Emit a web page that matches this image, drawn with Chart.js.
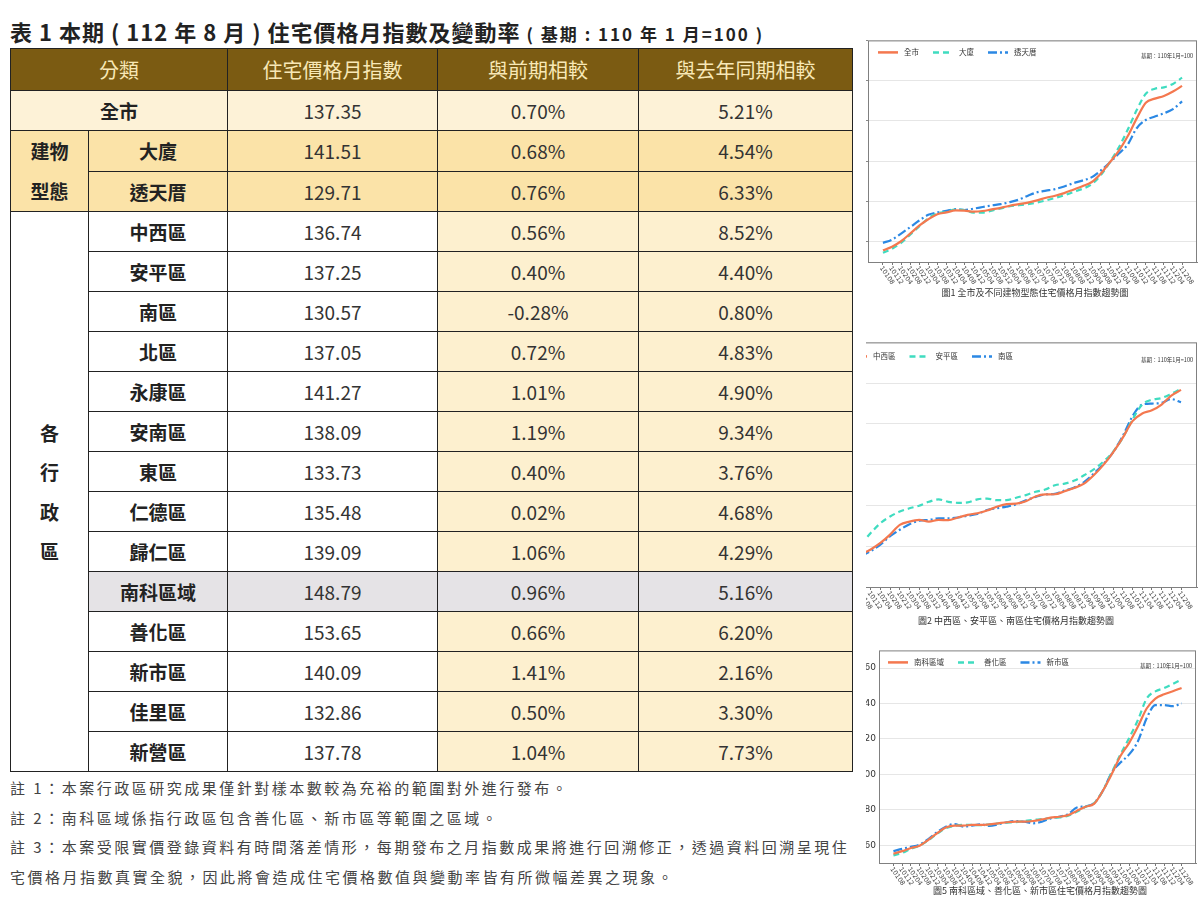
<!DOCTYPE html>
<html lang="zh-Hant">
<head>
<meta charset="utf-8">
<script src="https://cdn.jsdelivr.net/npm/chart.js@4.4.0/dist/chart.umd.min.js"></script>
<style>
body { margin: 0; width: 1200px; height: 900px; background: #fff; position: relative; overflow: hidden;
       font-family: "Noto Sans CJK TC", sans-serif; color: #333; }
#title { position: absolute; left: 10px; top: 15px; font-size: 22px; letter-spacing: 1px; font-weight: bold; color: #222; white-space: nowrap; }
#title small { font-size: 17px; letter-spacing: 2px; }
table { position: absolute; left: 10px; top: 48px; width: 842px; border-collapse: collapse; table-layout: fixed; }
td, th { border: 1.5px solid #222; text-align: center; padding: 0; font-size: 19px; height: 39px; color: #333; }
th { background: #7b5b12; color: #f8e8b6; font-weight: normal; height: 41px; font-size: 20px; }
td.name, td.grp { font-weight: bold; color: #222; }
tr.city td { background: #fdf2d7; }
tr.bldg td { background: #fbe3a8; }
tr.dist td { background: #fff; }
tr.dist td.pct { background: #fdf0cf; }
tr.grey td { background: #e5e3e6; }
td.grp { background: #fbe3a8; line-height: 40px; }
td.dist-grp { background: #fff !important; line-height: 39.5px; }
#notes { position: absolute; left: 10px; top: 773px; font-size: 15px; color: #444; letter-spacing: 2.5px; line-height: 29.5px; white-space: nowrap; }
#charts { position: absolute; left: 866px; top: 0; width: 334px; height: 900px; overflow: hidden; }
#charts canvas { position: absolute; }
.cap { position: absolute; font-size: 9px; color: #333; white-space: nowrap; transform: translate(-50%, -50%); }
</style>
</head>
<body>
<div id="title">表 1 本期 ( 112 年 8 月 ) 住宅價格月指數及變動率 <small>( 基期 : 110 年 1 月=100 )</small></div>
<table>
  <colgroup><col style="width:78px"><col style="width:139px"><col style="width:210px"><col style="width:201px"><col style="width:214px"></colgroup>
  <thead><tr><th colspan="2">分類</th><th>住宅價格月指數</th><th>與前期相較</th><th>與去年同期相較</th></tr></thead>
  <tbody id="tbody"></tbody>
</table>
<div id="notes">
註 1：本案行政區研究成果僅針對樣本數較為充裕的範圍對外進行發布。<br>
註 2：南科區域係指行政區包含善化區、新市區等範圍之區域。<br>
註 3：本案受限實價登錄資料有時間落差情形，每期發布之月指數成果將進行回溯修正，透過資料回溯呈現住<br>
宅價格月指數真實全貌，因此將會造成住宅價格數值與變動率皆有所微幅差異之現象。
</div>
<div id="charts">
  <canvas id="c1" width="372" height="260" style="left:-38px; top:32px"></canvas>
  <canvas id="c2" width="395" height="283" style="left:-61px; top:334px"></canvas>
  <canvas id="c3" width="360" height="251" style="left:-27px; top:642px"></canvas>
</div>
<div class="cap" style="left:1035px; top:292px">圖1 全市及不同建物型態住宅價格月指數趨勢圖</div>
<div class="cap" style="left:1016px; top:620px">圖2 中西區、安平區、南區住宅價格月指數趨勢圖</div>
<div class="cap" style="left:1040px; top:890px">圖5 南科區域、善化區、新市區住宅價格月指數趨勢圖</div>

<script>
// table 1
const rowNames = ["全市", "大廈", "透天厝", "中西區", "安平區", "南區", "北區", "永康區", "安南區",
                  "東區", "仁德區", "歸仁區", "南科區域", "善化區", "新市區", "佳里區", "新營區"];
const rowIndex = [137.35, 141.51, 129.71, 136.74, 137.25, 130.57, 137.05, 141.27, 138.09,
                  133.73, 135.48, 139.09, 148.79, 153.65, 140.09, 132.86, 137.78];
const rowMoM = [0.70, 0.68, 0.76, 0.56, 0.40, -0.28, 0.72, 1.01, 1.19, 0.40, 0.02, 1.06, 0.96, 0.66, 1.41, 0.50, 1.04];
const rowYoY = [5.21, 4.54, 6.33, 8.52, 4.40, 0.80, 4.83, 4.90, 9.34, 3.76, 4.68, 4.29, 5.16, 6.20, 2.16, 3.30, 7.73];

// monthly index, every 4 months
const xLabels = ["10108", "10112", "10204", "10208", "10212", "10304", "10308", "10312", "10404", "10408",
                 "10412", "10504", "10508", "10512", "10604", "10608", "10612", "10704", "10708", "10712",
                 "10804", "10808", "10812", "10904", "10908", "10912", "11004", "11008", "11012", "11104",
                 "11108", "11112", "11204", "11208"];

const yTicks1 = [60, 80, 100, 120, 140, 160];
const yTicks2 = [40, 60, 80, 100, 120, 140, 160];
const yTicks3 = [60, 80, 100, 120, 140, 160];

const allCity = [55.8, 57.6, 60.3, 64.1, 68.0, 71.2, 73.7, 74.6, 75.6, 75.5, 75.0, 75.3, 76.1, 76.9, 77.9, 78.7, 79.5,
                 80.6, 81.9, 82.9, 84.2, 85.9, 87.6, 89.6, 93.7, 99.3, 105.0, 112.4, 121.3, 129.1, 131.1, 132.4, 134.6, 137.4];
const building = [54.6, 56.6, 59.5, 63.6, 67.6, 71.7, 74.1, 74.9, 76.1, 75.8, 74.5, 74.5, 75.5, 76.6, 77.7, 78.2, 78.7,
                  79.5, 80.6, 81.8, 83.1, 84.7, 86.3, 88.5, 92.9, 99.3, 106.7, 115.6, 125.4, 133.5, 136.0, 136.7, 138.4, 141.5];
const house = [59.5, 61.1, 64.1, 67.3, 70.6, 73.4, 74.6, 75.4, 76.2, 75.8, 76.5, 77.3, 78.1, 78.7, 79.7, 81.0, 82.9,
               84.6, 85.4, 86.2, 87.5, 89.1, 90.4, 92.0, 95.3, 99.3, 103.7, 108.3, 116.4, 120.5, 122.2, 123.8, 125.9, 129.7];

const westCentral = [56.0, 58.4, 61.6, 65.7, 70.5, 72.1, 72.9, 72.1, 72.9, 72.8, 74.1, 75.4, 76.2, 77.5, 79.4, 80.7, 80.9,
                     82.1, 84.4, 85.4, 85.5, 87.0, 88.6, 90.7, 94.8, 99.9, 106.1, 113.3, 121.4, 125.1, 126.7, 129.5, 133.9, 136.7];
const anping = [60.8, 66.5, 71.3, 74.6, 77.0, 78.6, 79.9, 81.8, 83.0, 81.8, 81.3, 81.5, 83.0, 83.4, 82.6, 82.6, 83.8,
                85.1, 86.7, 87.8, 89.9, 90.7, 92.2, 94.8, 97.7, 101.5, 106.4, 113.3, 122.2, 129.5, 131.9, 132.7, 134.8, 137.3];
const southDist = [55.2, 57.6, 60.8, 64.9, 68.1, 70.8, 72.5, 72.9, 73.7, 73.7, 74.1, 75.0, 75.8, 77.8, 78.6, 79.4, 80.5,
                   82.5, 84.2, 85.4, 85.7, 87.3, 88.8, 91.5, 95.6, 100.4, 106.1, 114.1, 123.8, 129.5, 130.0, 130.3, 132.2, 130.6];

const sciPark = [55.2, 56.7, 58.5, 59.8, 63.1, 66.8, 70.0, 71.1, 71.1, 71.5, 71.5, 71.8, 72.4, 73.0, 73.3, 73.3, 73.7,
                 74.6, 75.6, 76.1, 77.0, 79.4, 81.7, 83.5, 90.9, 100.2, 110.4, 117.8, 127.0, 137.2, 142.8, 145.2, 146.9, 148.8];
const shanhua = [54.3, 55.7, 58.0, 59.8, 62.8, 66.5, 69.6, 70.9, 71.5, 71.5, 71.3, 71.8, 72.4, 72.8, 73.1, 73.7, 74.3,
                 74.8, 75.4, 75.7, 76.7, 78.9, 81.7, 83.9, 90.9, 101.1, 111.3, 120.6, 130.7, 142.8, 146.9, 148.7, 151.1, 153.6];
const xinshi = [56.7, 58.0, 59.1, 60.4, 63.5, 67.4, 70.5, 72.0, 70.5, 71.1, 71.8, 70.9, 71.8, 73.0, 73.7, 73.3, 72.4,
                73.3, 75.2, 76.1, 77.6, 81.3, 82.0, 83.9, 90.9, 101.1, 106.7, 111.3, 118.7, 131.7, 139.1, 139.1, 138.5, 140.1];

const ORANGE = "#f4784f", TEAL = "#3fdcc0", BLUE = "#2b88e4";

// build table
const tbody = document.getElementById("tbody");
const pct = v => v.toFixed(2) + "%";
rowNames.forEach((name, i) => {
    const tr = document.createElement("tr");
    tr.className = i === 0 ? "city" : i < 3 ? "bldg" : name === "南科區域" ? "grey" : "dist";
    let html = "";
    if (i === 0) {
        html += '<td colspan="2" class="name">' + name + "</td>";
    } else {
        if (i === 1) html += '<td rowspan="2" class="grp">建物<br>型態</td>';
        if (i === 3) html += '<td rowspan="14" class="grp dist-grp">各<br>行<br>政<br>區</td>';
        html += '<td class="name">' + name + "</td>";
    }
    html += "<td>" + rowIndex[i].toFixed(2) + '</td><td class="pct">' + pct(rowMoM[i]) +
            '</td><td class="pct">' + pct(rowYoY[i]) + "</td>";
    tr.innerHTML = html;
    tbody.appendChild(tr);
});

// frame, inner legend, base note and slanted month labels
const decor = {
    id: "decor",
    afterDraw(chart, args, o) {
        const { ctx, chartArea: a } = chart;
        const x = chart.scales.x;
        ctx.save();
        ctx.strokeStyle = "#808080";
        ctx.lineWidth = 1;
        ctx.strokeRect(a.left + 0.5, a.top + 0.5, a.width - 1, a.height);

        let lx = a.left + o.legendX;
        const ly = a.top + o.legendY;
        ctx.font = '7.5px "Noto Sans CJK TC"';
        ctx.textBaseline = "middle";
        chart.data.datasets.forEach(ds => {
            ctx.strokeStyle = ds.borderColor;
            ctx.lineWidth = 2.5;
            ctx.setLineDash(ds.borderDash || []);
            ctx.beginPath();
            ctx.moveTo(lx, ly);
            ctx.lineTo(lx + 20, ly);
            ctx.stroke();
            ctx.setLineDash([]);
            ctx.fillStyle = "#333";
            ctx.textAlign = "left";
            ctx.fillText(ds.label, lx + 26, ly);
            lx += 26 + ctx.measureText(ds.label).width + o.legendGap;
        });

        ctx.font = '5.5px "Noto Sans CJK TC"';
        ctx.textAlign = "right";
        ctx.fillText("基期：110年1月=100", a.right - 4, a.top + o.noteY);

        ctx.font = '6.5px "DejaVu Sans"';
        ctx.textAlign = "left";
        ctx.fillStyle = "#444";
        xLabels.forEach((t, i) => {
            const px = x.getPixelForValue(i);
            ctx.save();
            ctx.translate(px - 2, a.bottom + 5);
            ctx.rotate(55 * Math.PI / 180);
            ctx.fillText(t, 0, 0);
            ctx.restore();
        });
        ctx.restore();
    }
};

function makeChart(id, series, yMin, yMax, yTicks, deco, drawYTicks) {
    const styles = [
        { borderColor: ORANGE, borderDash: [] },
        { borderColor: TEAL, borderDash: [6, 4] },
        { borderColor: BLUE, borderDash: [9, 3, 2, 3] }
    ];
    const datasets = series.map((s, k) => ({
        label: s.label,
        data: s.values.map((v, i) => ({ x: i, y: v })),
        borderColor: styles[k].borderColor,
        borderDash: styles[k].borderDash,
        borderWidth: 2.2,
        pointRadius: 0,
        tension: 0.4,
        cubicInterpolationMode: "monotone",
        fill: false
    }));
    return new Chart(document.getElementById(id), {
        type: "line",
        data: { datasets },
        plugins: [decor],
        options: {
            responsive: false,
            animation: false,
            layout: { padding: { top: 5, right: 3, left: 0, bottom: 0 } },
            plugins: { legend: { display: false }, tooltip: { enabled: false }, decor: deco },
            scales: {
                x: {
                    type: "linear",
                    min: -1.65,
                    max: 34.65,
                    afterBuildTicks: s => { s.ticks = xLabels.map((_, i) => ({ value: i })); },
                    afterFit: s => { s.height = 30; },
                    ticks: { display: false },
                    grid: { drawOnChartArea: false, drawTicks: true, tickLength: 3, tickColor: "#777" },
                    border: { color: "#808080" }
                },
                y: {
                    min: yMin,
                    max: yMax,
                    afterBuildTicks: s => { s.ticks = yTicks.map(v => ({ value: v })); },
                    afterFit: s => { s.width = 40; },
                    ticks: { color: "#333", font: { size: 9, family: "DejaVu Sans" } },
                    grid: { color: "#e6e6e6", drawTicks: drawYTicks, tickLength: 4, tickColor: "#888" },
                    border: { display: false }
                }
            }
        }
    });
}

makeChart("c1", [
    { label: "全市", values: allCity },
    { label: "大廈", values: building },
    { label: "透天厝", values: house }
], 50, 160, yTicks1, { legendX: 10, legendY: 12, legendGap: 14, noteY: 16 }, true);

makeChart("c2", [
    { label: "中西區", values: westCentral },
    { label: "安平區", values: anping },
    { label: "南區", values: southDist }
], 40, 160, yTicks2, { legendX: 2, legendY: 14, legendGap: 14, noteY: 18 }, true);

makeChart("c3", [
    { label: "南科區域", values: sciPark },
    { label: "善化區", values: shanhua },
    { label: "新市區", values: xinshi }
], 50, 170, yTicks3, { legendX: 9, legendY: 12, legendGap: 14, noteY: 16 }, false);
</script>
</body>
</html>
